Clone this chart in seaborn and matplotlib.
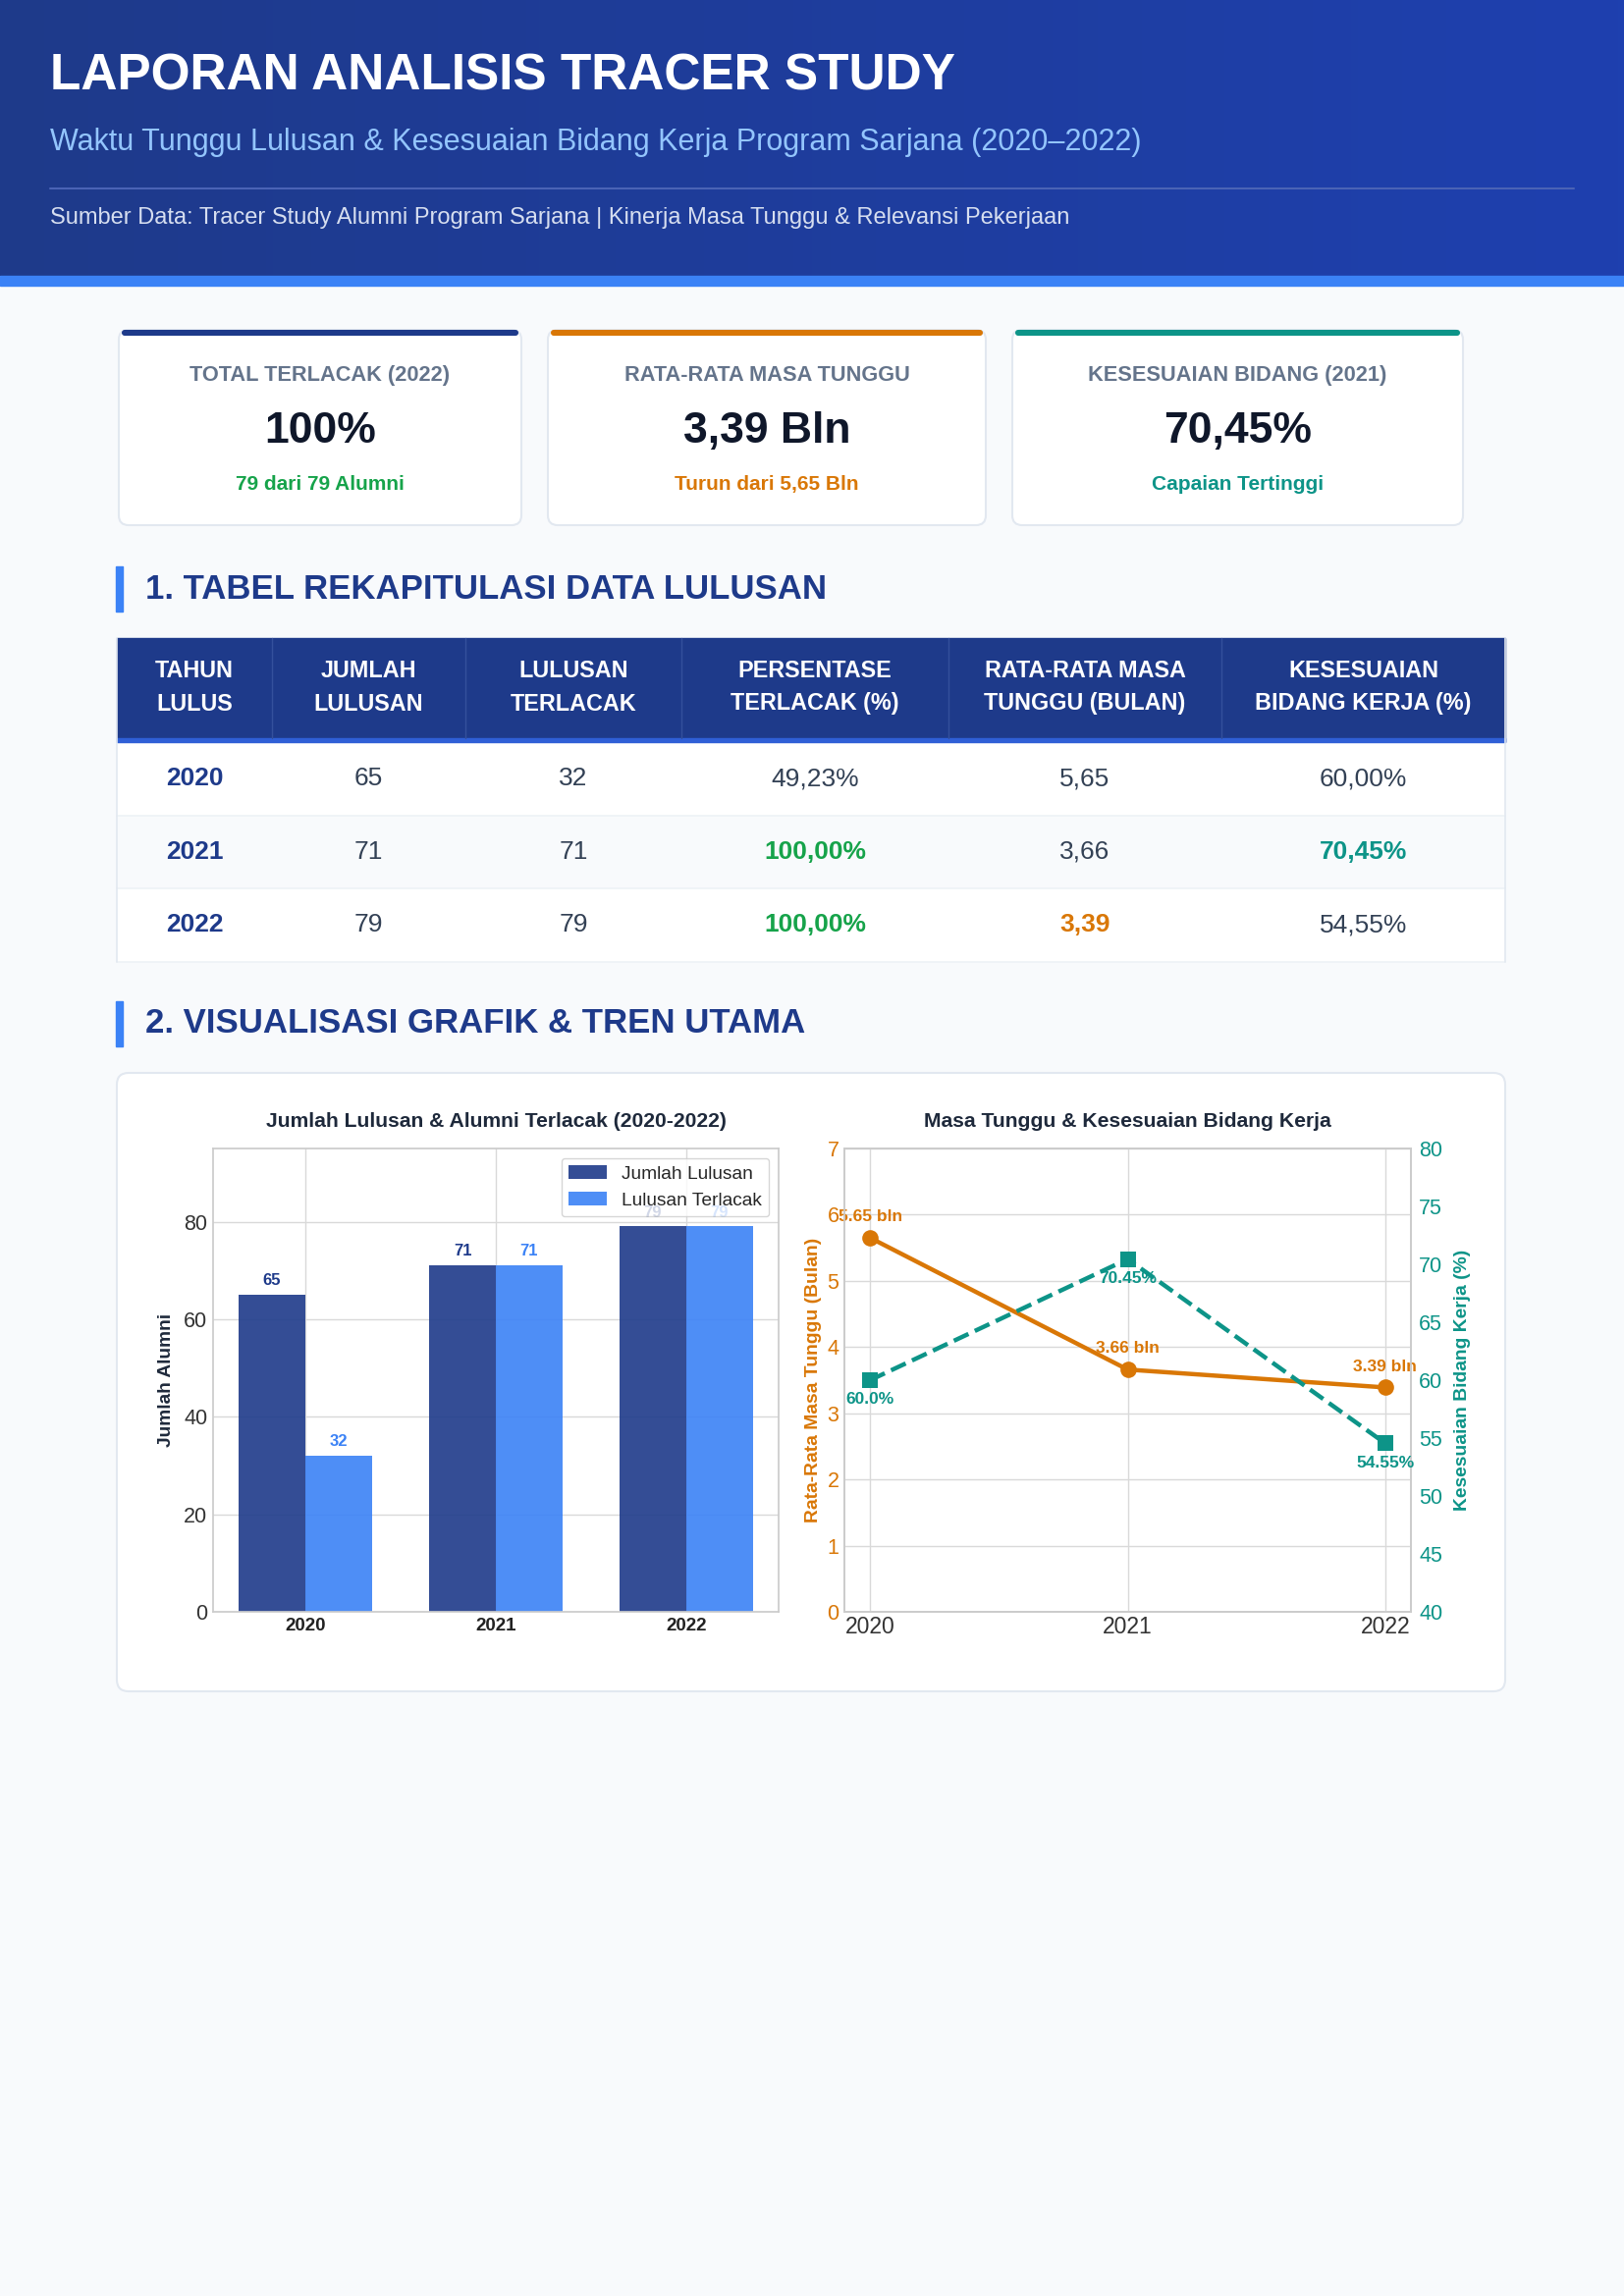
import numpy as np
import pandas as pd
import matplotlib
matplotlib.use("Agg")
import matplotlib.pyplot as plt
import seaborn as sns
from matplotlib.patches import FancyBboxPatch, Rectangle
from matplotlib.colors import LinearSegmentedColormap

# data
years = [2020, 2021, 2022]
jumlah_lulusan = [65, 71, 79]
lulusan_terlacak = [32, 71, 79]
persen_terlacak = [49.23, 100.00, 100.00]
masa_tunggu = [5.65, 3.66, 3.39]
kesesuaian = [60.0, 70.45, 54.55]

W, H = 1654, 2339
NAVY = '#1e3a8a'
BLUE = '#3b82f6'
ORANGE = '#d97706'
TEAL = '#0d9488'
GREEN = '#16a34a'
BG = '#f8fafc'

sns.set_theme(style='whitegrid')
plt.rcParams['font.family'] = ['Liberation Sans', 'DejaVu Sans']


def idn(v, d=2):
    return f"{v:.{d}f}".replace('.', ',')


fig = plt.figure(figsize=(W / 100, H / 100), dpi=100, facecolor=BG)

# page canvas in pixel coordinates
bg = fig.add_axes([0, 0, 1, 1], zorder=0)
bg.set_facecolor(BG)
grad = np.linspace(0, 1, 256).reshape(1, -1)
hdr_cmap = LinearSegmentedColormap.from_list('hdr', ['#1e3a8a', '#1e40af'])
bg.imshow(grad, extent=[0, W, 281, 0], aspect='auto', cmap=hdr_cmap, zorder=1)
bg.add_patch(Rectangle((0, 281), W, 10, color=BLUE, zorder=2))
bg.set_xlim(0, W)
bg.set_ylim(H, 0)
bg.axis('off')

bg.text(51, 91, 'LAPORAN ANALISIS TRACER STUDY', color='white', fontsize=37,
        fontweight='bold', va='baseline', zorder=3)
bg.text(51, 153, 'Waktu Tunggu Lulusan & Kesesuaian Bidang Kerja Program Sarjana (2020–2022)',
        color='#93c5fd', fontsize=22, va='baseline', zorder=3)
bg.plot([51, 1603], [192, 192], color='#4a63b5', lw=1.5, zorder=3)
bg.text(51, 228, 'Sumber Data: Tracer Study Alumni Program Sarjana | Kinerja Masa Tunggu & Relevansi Pekerjaan',
        color='#d6def0', fontsize=17, va='baseline', zorder=3)


def card(x0, y0, x1, y1, r=10, top=None):
    bg.add_patch(FancyBboxPatch((x0, y0), x1 - x0, y1 - y0,
                                boxstyle=f'round,pad=0,rounding_size={r}',
                                fc='white', ec='#e2e8f0', lw=1.5, zorder=2))
    if top:
        bg.add_patch(FancyBboxPatch((x0 + 3, y0), x1 - x0 - 6, 6,
                                    boxstyle='round,pad=0,rounding_size=3',
                                    fc=top, ec='none', zorder=3))


# KPI cards
kpis = [
    ((121, 531), NAVY, f'TOTAL TERLACAK ({years[-1]})',
     f'{persen_terlacak[-1]:.0f}%', f'{lulusan_terlacak[-1]} dari {jumlah_lulusan[-1]} Alumni', GREEN),
    ((558, 1004), ORANGE, 'RATA-RATA MASA TUNGGU',
     f'{idn(masa_tunggu[-1])} Bln', f'Turun dari {idn(masa_tunggu[0])} Bln', ORANGE),
    ((1031, 1490), TEAL, f'KESESUAIAN BIDANG ({years[int(np.argmax(kesesuaian))]})',
     f'{idn(max(kesesuaian))}%', 'Capaian Tertinggi', TEAL),
]
for (x0, x1), col, lab, val, sub, subcol in kpis:
    card(x0, 336, x1, 535, top=col)
    cx = (x0 + x1) / 2
    bg.text(cx, 388, lab, ha='center', va='baseline', fontsize=15.7,
            fontweight='bold', color='#64748b', zorder=4)
    bg.text(cx, 451, val, ha='center', va='baseline', fontsize=32,
            fontweight='bold', color='#0f172a', zorder=4)
    bg.text(cx, 499, sub, ha='center', va='baseline', fontsize=15,
            fontweight='bold', color=subcol, zorder=4)


def section(y, label):
    bg.add_patch(Rectangle((118, y - 23), 7, 46, color=BLUE, zorder=3))
    bg.text(148, y, label, va='center', fontsize=25, fontweight='bold',
            color=NAVY, zorder=3)


section(600, '1. TABEL REKAPITULASI DATA LULUSAN')

# table
tx0, tx1 = 119, 1533
col_edges = [tx0, 277, 474, 694, 966, 1244, tx1]
headers = ['TAHUN\nLULUS', 'JUMLAH\nLULUSAN', 'LULUSAN\nTERLACAK',
           'PERSENTASE\nTERLACAK (%)', 'RATA-RATA MASA\nTUNGGU (BULAN)',
           'KESESUAIAN\nBIDANG KERJA (%)']
hy0, hy1 = 650, 756
row_h = 74.5
bg.add_patch(Rectangle((tx0, hy0), tx1 - tx0, hy1 - hy0, color=NAVY, zorder=2))
bg.add_patch(Rectangle((tx0, hy1 - 4), tx1 - tx0, 4, color='#2f5fd6', zorder=3))
for xe in col_edges[1:-1]:
    bg.plot([xe, xe], [hy0, hy1 - 4], color='#34509c', lw=1, zorder=3)
for i, h in enumerate(headers):
    cx = (col_edges[i] + col_edges[i + 1]) / 2
    l1, l2 = h.split('\n')
    bg.text(cx, 683, l1, ha='center', va='center', fontsize=16.8,
            fontweight='bold', color='white', zorder=4)
    bg.text(cx, 717, l2, ha='center', va='center', fontsize=16.8,
            fontweight='bold', color='white', zorder=4)

best_fit = int(np.argmax(kesesuaian))
best_wait = int(np.argmin(masa_tunggu))
for r in range(len(years)):
    y0 = hy1 + r * row_h
    bg.add_patch(Rectangle((tx0, y0), tx1 - tx0, row_h,
                           fc='#f8fafc' if r % 2 else 'white', ec='none', zorder=2))
    bg.plot([tx0, tx1], [y0 + row_h, y0 + row_h], color='#eef2f6', lw=1.2, zorder=3)
    cells = [
        (str(years[r]), NAVY, 'bold'),
        (str(jumlah_lulusan[r]), '#334155', 'normal'),
        (str(lulusan_terlacak[r]), '#334155', 'normal'),
        (f'{idn(persen_terlacak[r])}%', GREEN if persen_terlacak[r] >= 100 else '#334155',
         'bold' if persen_terlacak[r] >= 100 else 'normal'),
        (idn(masa_tunggu[r]), ORANGE if r == best_wait else '#334155',
         'bold' if r == best_wait else 'normal'),
        (f'{idn(kesesuaian[r])}%', TEAL if r == best_fit else '#334155',
         'bold' if r == best_fit else 'normal'),
    ]
    cy = y0 + row_h / 2
    for i, (txt, c, fw) in enumerate(cells):
        cx = (col_edges[i] + col_edges[i + 1]) / 2
        bg.text(cx, cy, txt, ha='center', va='center', fontsize=19,
                color=c, fontweight=fw, zorder=4)
tb = hy1 + 3 * row_h
bg.plot([tx0, tx0], [hy0, tb], color='#e2e8f0', lw=1.2, zorder=3)
bg.plot([tx1, tx1], [hy0, tb], color='#e2e8f0', lw=1.2, zorder=3)

section(1043, '2. VISUALISASI GRAFIK & TREN UTAMA')

card(119, 1093, 1533, 1723, r=12)

# chart 1: bars
ax1 = fig.add_axes([217 / W, 1 - 1642 / H, (793 - 217) / W, (1642 - 1170) / H], zorder=5)
df = pd.DataFrame({
    'Tahun': [str(y) for y in years] * 2,
    'Jumlah': jumlah_lulusan + lulusan_terlacak,
    'Kategori': ['Jumlah Lulusan'] * len(years) + ['Lulusan Terlacak'] * len(years),
})
sns.barplot(data=df, x='Tahun', y='Jumlah', hue='Kategori', palette=[NAVY, BLUE],
            width=0.7, alpha=0.9, saturation=1, ax=ax1, edgecolor='none')
for cont, c in zip(ax1.containers, [NAVY, BLUE]):
    ax1.bar_label(cont, fmt='{:.0f}', padding=5, color=c, fontweight='bold', fontsize=12)
ax1.set_ylim(0, 95)
ax1.set_xlim(-0.485, 2.485)
ax1.set_yticks([0, 20, 40, 60, 80])
ax1.set_xlabel('')
ax1.set_ylabel('Jumlah Alumni', fontsize=13.8, fontweight='bold', color='#1e293b', labelpad=7)
ax1.set_title('Jumlah Lulusan & Alumni Terlacak (2020-2022)', fontsize=15.2,
              fontweight='bold', color='#1e293b', pad=16)
ax1.tick_params(axis='y', labelsize=15.5, colors='#333333', length=0, pad=4)
ax1.tick_params(axis='x', pad=4, length=0)
for t in ax1.get_xticklabels():
    t.set_fontweight('bold')
    t.set_fontsize(13.5)
    t.set_color('#222222')
hnd, lab = ax1.get_legend_handles_labels()
ax1.legend(hnd, lab, loc='upper right', fontsize=13.8, framealpha=0.8)
ax1.grid(True, axis='both', color='#d9d9d9')

# chart 2: lines, twin axis
ax2 = fig.add_axes([860 / W, 1 - 1642 / H, (1437 - 860) / W, (1642 - 1170) / H], zorder=5)
ax3 = ax2.twinx()
sns.lineplot(x=years, y=masa_tunggu, ax=ax2, color=ORANGE, marker='o', markersize=12,
             linewidth=3.2, markeredgewidth=0)
sns.lineplot(x=years, y=kesesuaian, ax=ax3, color=TEAL, marker='s', markersize=12,
             linewidth=3.2, linestyle='--', markeredgewidth=0)
for x, v in zip(years, masa_tunggu):
    ax2.annotate(f'{v} bln', (x, v), xytext=(0, 10), textcoords='offset points',
                 ha='center', va='bottom', color=ORANGE, fontweight='bold', fontsize=12.5,
                 annotation_clip=False, zorder=10)
for x, v in zip(years, kesesuaian):
    ax3.annotate(f'{v}%', (x, v), xytext=(0, -9), textcoords='offset points',
                 ha='center', va='top', color=TEAL, fontweight='bold', fontsize=12.5,
                 annotation_clip=False, zorder=10)
ax2.set_xlim(years[0] - 0.1, years[-1] + 0.1)
ax2.set_xticks(years)
ax2.set_xticklabels([str(y) for y in years])
ax2.set_ylim(0, 7)
ax3.set_ylim(40, 80)
ax2.set_yticks(range(0, 8))
ax3.set_yticks(range(40, 81, 5))
ax3.grid(False)
ax2.grid(True, color='#d9d9d9')
ax2.tick_params(axis='y', labelsize=15.5, colors=ORANGE, length=0, pad=4)
ax3.tick_params(axis='y', labelsize=15.5, colors=TEAL, length=0, pad=6)
ax2.tick_params(axis='x', labelsize=16.5, colors='#333333', length=0, pad=3)
ax2.set_ylabel('Rata-Rata Masa Tunggu (Bulan)', fontsize=13.9, fontweight='bold', color=ORANGE)
ax3.set_ylabel('Kesesuaian Bidang Kerja (%)', fontsize=13.9, fontweight='bold', color=TEAL,
               labelpad=8)
ax2.set_title('Masa Tunggu & Kesesuaian Bidang Kerja', fontsize=15.2,
              fontweight='bold', color='#1e293b', pad=16)
for sp in ax3.spines.values():
    sp.set_color('#cccccc')

fig.savefig('out.png', dpi=100, facecolor=BG)
